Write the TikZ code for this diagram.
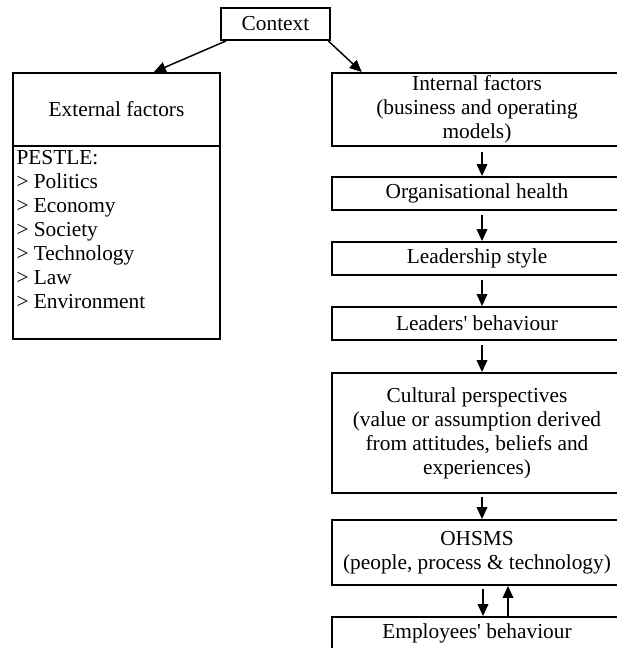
\documentclass[tikz,border=0pt]{standalone}
\usepackage{fontspec}
\setmainfont{Liberation Serif}
\usetikzlibrary{arrows.meta}

\begin{document}
\begin{tikzpicture}[x=0.75pt, y=-0.75pt,
box/.style = {draw, line width=1.4pt, inner sep=2pt, align=center, font=\fontsize{16}{18}\selectfont},
flow/.style = {-{Triangle[length=9pt,width=8pt]}, line width=1.1pt}
]
\useasboundingbox (0,0) rectangle (616,648);

\node (ctx) at (275.5, 24) [box, minimum width=81.75pt, minimum height=24pt] {Context};

\node (ext) at (116.5, 109.5) [box, minimum width=155.25pt, minimum height=54.75pt] {External factors};
\node (pestle) at (116.5, 242.5) [box, minimum width=155.25pt, minimum height=144.75pt] {\parbox[c][138pt][t]{150pt}{\raggedright PESTLE:\\> Politics\\> Economy\\> Society\\> Technology\\> Law\\> Environment}};

\node (internal) at (477, 109.5) [box, minimum width=217.5pt, minimum height=54.75pt] {Internal factors\\(business and operating\\models)};
\node (org) at (477, 193.5) [box, minimum width=217.5pt, minimum height=24.75pt] {Organisational health};
\node (lstyle) at (477, 258.5) [box, minimum width=217.5pt, minimum height=24.75pt] {Leadership style};
\node (lbeh) at (477, 323.5) [box, minimum width=217.5pt, minimum height=24.75pt] {Leaders\textquotesingle\ behaviour};
\node (cult) at (477, 433) [box, minimum width=217.5pt, minimum height=90pt] {Cultural perspectives\\(value or assumption derived\\from attitudes, beliefs and\\experiences)};
\node (ohsms) at (477, 552.5) [box, minimum width=217.5pt, minimum height=48.75pt] {OHSMS\\(people, process \& technology)};
\node (emp) at (477, 633.5) [box, minimum width=217.5pt, minimum height=24.75pt] {Employees\textquotesingle\ behaviour};

\draw[flow] ([xshift=4.5pt]ctx.south west) -- ([xshift=28pt]ext.north);
\draw[flow] ([xshift=-2pt]ctx.south east) -- ([xshift=23pt]internal.north west);

\draw[flow, shorten <=4pt] ([xshift=3.75pt]internal.south) -- ([xshift=3.75pt]org.north);
\draw[flow, shorten <=3pt] ([xshift=3.75pt]org.south) -- ([xshift=3.75pt]lstyle.north);
\draw[flow, shorten <=3pt] ([xshift=3.75pt]lstyle.south) -- ([xshift=3.75pt]lbeh.north);
\draw[flow, shorten <=3pt] ([xshift=3.75pt]lbeh.south) -- ([xshift=3.75pt]cult.north);
\draw[flow, shorten <=2pt] ([xshift=3.75pt]cult.south) -- ([xshift=3.75pt]ohsms.north);
\draw[flow, shorten <=2pt] ([xshift=4.5pt]ohsms.south) -- ([xshift=4.5pt]emp.north);
\draw[flow] ([xshift=23.25pt]emp.north) -- ([xshift=23.25pt]ohsms.south);
\end{tikzpicture}
\end{document}
